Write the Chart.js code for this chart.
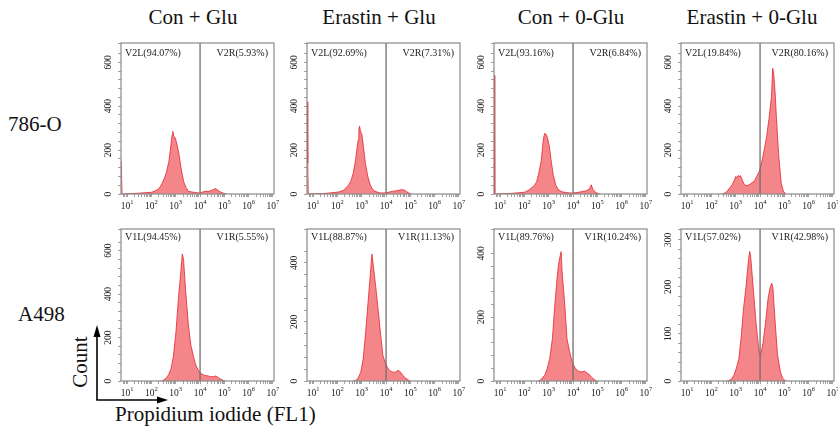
<!DOCTYPE html>
<html>
<head>
<meta charset="utf-8">
<script src="https://cdn.jsdelivr.net/npm/chart.js@4.4.1/dist/chart.umd.min.js"></script>
<style>
  html, body { margin: 0; padding: 0; background: #fff; }
  body { width: 838px; height: 434px; position: relative; overflow: hidden; font-family: "Liberation Serif", serif; color: #111; }
  canvas { position: absolute; }
  .txt { position: absolute; white-space: nowrap; line-height: 1; }
  .title { font-size: 21px; top: 7px; transform: translateX(-50%); }
</style>
</head>
<body>
<div id="labels"></div>
<svg width="838" height="434" style="position:absolute;left:0;top:0">
  <line x1="97" y1="400" x2="97" y2="335" stroke="#000" stroke-width="1.6"/>
  <polygon points="97,325 93.5,337 100.5,337" fill="#000"/>
  <line x1="96.2" y1="400" x2="159" y2="400" stroke="#000" stroke-width="1.6"/>
  <polygon points="168,400 157,396.5 157,403.5" fill="#000"/>
</svg>
<div class="txt" style="font-size:21px;left:80px;top:362px;transform:translate(-50%,-50%) rotate(-90deg)">Count</div>
<div class="txt" style="font-size:21px;left:115px;top:404px">Propidium iodide (FL1)</div>
<script>
// column / row names
const colNames = ['Con + Glu', 'Erastin + Glu', 'Con + 0-Glu', 'Erastin + 0-Glu'];
const rowNames = ['786-O', 'A498'];

// histograms: log10(FL1 channel) and counts
// 786-O row
const t1Exp = [0.76, 0.79, 1.4, 2.02, 2.22, 2.33, 2.43, 2.52, 2.62, 2.72, 2.81, 2.85, 2.88, 2.92, 2.97, 3.02, 3.12, 3.23, 3.33, 3.42, 3.52, 3.73, 3.92, 4.05, 4.18, 4.35, 4.49, 4.64, 4.79, 4.95, 5.07];
const t1Count = [150, 0, 3, 8, 18, 27, 47, 68, 100, 150, 230, 270, 285, 262, 258, 240, 190, 110, 55, 30, 12, 8, 5, 6, 12, 12, 17, 25, 12, 4, 0];
const t2Exp = [0.76, 0.78, 0.8, 1.53, 2.05, 2.25, 2.44, 2.55, 2.65, 2.74, 2.85, 2.88, 2.91, 2.95, 3.0, 3.06, 3.15, 3.25, 3.35, 3.44, 3.54, 3.76, 4.0, 4.17, 4.3, 4.44, 4.64, 4.74, 4.85, 4.94, 5.04];
const t2Count = [420, 140, 0, 3, 9, 17, 38, 58, 95, 150, 245, 290, 310, 285, 275, 225, 140, 80, 42, 22, 12, 5, 5, 10, 13, 15, 20, 18, 10, 4, 0];
const t3Exp = [0.76, 0.78, 1.48, 2.0, 2.19, 2.4, 2.5, 2.59, 2.69, 2.76, 2.8, 2.84, 2.9, 2.95, 3.02, 3.09, 3.18, 3.29, 3.39, 3.54, 3.75, 3.98, 4.23, 4.51, 4.67, 4.75, 4.81, 4.92, 5.03, 5.12];
const t3Count = [540, 0, 3, 8, 18, 38, 55, 95, 150, 230, 262, 277, 270, 255, 220, 160, 90, 40, 20, 10, 6, 4, 8, 14, 22, 42, 22, 8, 2, 0];
const t4Exp = [2.45, 2.56, 2.64, 2.75, 2.85, 2.95, 3.0, 3.04, 3.1, 3.15, 3.19, 3.25, 3.35, 3.46, 3.55, 3.65, 3.76, 3.86, 3.97, 4.06, 4.16, 4.27, 4.37, 4.47, 4.52, 4.56, 4.62, 4.67, 4.77, 4.87, 4.96, 5.06];
const t4Count = [0, 5, 12, 27, 42, 65, 80, 73, 85, 78, 84, 70, 42, 38, 42, 50, 58, 80, 103, 140, 195, 262, 345, 445, 573, 550, 460, 353, 171, 50, 12, 0];
// A498 row
const b1Exp = [2.4, 2.51, 2.6, 2.71, 2.81, 2.9, 3.01, 3.11, 3.21, 3.27, 3.32, 3.41, 3.52, 3.62, 3.73, 3.82, 3.93, 4.03, 4.14, 4.23, 4.34, 4.44, 4.55, 4.65, 4.76, 4.85, 4.96, 5.03];
const b1Count = [0, 5, 12, 30, 58, 112, 228, 380, 505, 585, 560, 412, 258, 166, 112, 74, 50, 35, 28, 25, 23, 20, 20, 23, 15, 8, 2, 0];
const b2Exp = [2.65, 2.76, 2.85, 2.96, 3.06, 3.16, 3.26, 3.37, 3.42, 3.46, 3.57, 3.67, 3.78, 3.87, 3.98, 4.08, 4.19, 4.28, 4.39, 4.49, 4.6, 4.69, 4.8, 4.9, 4.99];
const b2Count = [0, 2, 10, 30, 75, 165, 267, 380, 430, 402, 323, 245, 155, 87, 58, 42, 33, 30, 30, 36, 30, 19, 10, 4, 0];
const b3Exp = [2.55, 2.64, 2.74, 2.85, 2.94, 3.04, 3.15, 3.25, 3.34, 3.4, 3.45, 3.51, 3.55, 3.66, 3.75, 3.86, 3.96, 4.06, 4.17, 4.26, 4.37, 4.47, 4.56, 4.67, 4.77, 4.87, 4.96];
const b3Count = [0, 2, 10, 20, 40, 70, 133, 238, 320, 363, 385, 405, 342, 238, 133, 91, 60, 44, 33, 30, 28, 31, 26, 20, 11, 5, 0];
const b4Exp = [2.62, 2.72, 2.83, 2.92, 3.02, 3.13, 3.23, 3.32, 3.43, 3.53, 3.58, 3.62, 3.72, 3.83, 3.93, 3.98, 4.02, 4.12, 4.23, 4.33, 4.42, 4.48, 4.53, 4.63, 4.72, 4.84, 4.93, 5.03, 5.08];
const b4Count = [0, 1, 4, 12, 26, 48, 97, 154, 204, 261, 275, 261, 197, 126, 76, 58, 55, 80, 126, 176, 200, 208, 197, 119, 55, 19, 6, 1, 0];

// gate texts
const topLeftText = ['V2L(94.07%)', 'V2L(92.69%)', 'V2L(93.16%)', 'V2L(19.84%)'];
const topRightText = ['V2R(5.93%)', 'V2R(7.31%)', 'V2R(6.84%)', 'V2R(80.16%)'];
const botLeftText = ['V1L(94.45%)', 'V1L(88.87%)', 'V1L(89.76%)', 'V1L(57.02%)'];
const botRightText = ['V1R(5.55%)', 'V1R(11.13%)', 'V1R(10.24%)', 'V1R(42.98%)'];

// axes
const yMaxTop = [688, 688, 688, 688];
const yMaxBot = [700, 515, 476, 323];
const yLabelStepTop = [200, 200, 200, 200];
const yLabelStepBot = [200, 200, 200, 100];
const gateValue = 1e4;
const xMin = 5.6, xMax = 1.1e7;

// layout
const colLeft = [121, 307, 494, 681];
const colTitleX = [193, 379, 571, 752];
const boxW = 153;
const rowTop = [43, 229];
const rowH = [151, 152];
const yAxisW = 32, xAxisH = 24;

const labels = document.getElementById('labels');
colNames.forEach((n, i) => {
  const d = document.createElement('div');
  d.className = 'txt title';
  d.style.left = colTitleX[i] + 'px';
  d.textContent = n;
  labels.appendChild(d);
});
[[8, 114], [18, 304]].forEach((p, i) => {
  const d = document.createElement('div');
  d.className = 'txt';
  d.style.cssText = 'font-size:21px;left:' + p[0] + 'px;top:' + p[1] + 'px';
  d.textContent = rowNames[i];
  labels.appendChild(d);
});

const panelDecor = {
  id: 'panelDecor',
  afterDraw(chart, args, o) {
    const { ctx, chartArea: a } = chart;
    const xs = chart.scales.x, ys = chart.scales.y;
    ctx.save();
    ctx.strokeStyle = '#8a8a8a';
    ctx.lineWidth = 1.2;
    ctx.strokeRect(a.left, a.top, a.right - a.left, a.bottom - a.top);

    ctx.fillStyle = '#222';
    ctx.textBaseline = 'middle';
    ctx.font = '10px "Liberation Serif"';
    ctx.textAlign = 'left';
    ctx.fillText(o.leftText, a.left + 4, a.top + o.textDy);
    ctx.textAlign = 'right';
    ctx.fillText(o.rightText, a.right - 6, a.top + o.textDy);

    // rotated y labels
    ctx.font = '9.5px "Liberation Serif"';
    ctx.textAlign = 'center';
    ys.ticks.forEach(t => {
      if (t.value % o.yLabelStep !== 0) return;
      ctx.save();
      ctx.translate(a.left - 13, ys.getPixelForValue(t.value));
      ctx.rotate(-Math.PI / 2);
      ctx.fillText(String(t.value), 0, 0);
      ctx.restore();
    });

    // x labels as 10 with raised exponent
    ctx.textAlign = 'left';
    xs.ticks.forEach(t => {
      const lg = Math.log10(t.value);
      const e = Math.round(lg);
      if (Math.abs(lg - e) > 1e-6 || e < 1) return;
      const px = xs.getPixelForValue(t.value);
      ctx.font = '9.5px "Liberation Serif"';
      const w1 = ctx.measureText('10').width;
      ctx.font = '6.5px "Liberation Serif"';
      const w2 = ctx.measureText(String(e)).width;
      const x0 = px - (w1 + w2) / 2;
      ctx.font = '9.5px "Liberation Serif"';
      ctx.fillText('10', x0, a.bottom + 12);
      ctx.font = '6.5px "Liberation Serif"';
      ctx.fillText(String(e), x0 + w1, a.bottom + 8.5);
    });
    ctx.restore();
  }
};

function makePanel(row, col, exp, count, yMax, labelStep, leftText, rightText) {
  const cv = document.createElement('canvas');
  const h = rowH[row];
  cv.width = yAxisW + boxW + 6;
  cv.height = 4 + h + xAxisH;
  cv.style.left = (colLeft[col] - yAxisW) + 'px';
  cv.style.top = (rowTop[row] - 4) + 'px';
  document.body.appendChild(cv);

  const hist = exp.map((e, i) => ({ x: Math.pow(10, e), y: count[i] }));

  new Chart(cv, {
    type: 'line',
    data: {
      datasets: [
        {
          data: [{ x: gateValue, y: 0 }, { x: gateValue, y: yMax }],
          borderColor: '#6e6e6e', borderWidth: 1.3, pointRadius: 0, fill: false, order: 0
        },
        {
          data: hist,
          borderColor: '#e3262e', borderWidth: 0.8,
          backgroundColor: 'rgba(240,92,98,0.75)',
          fill: 'origin', pointRadius: 0, tension: 0, order: 1
        }
      ]
    },
    options: {
      responsive: false,
      animation: false,
      layout: { padding: { top: 4, right: 6, left: 0, bottom: 0 } },
      plugins: {
        legend: { display: false },
        tooltip: { enabled: false },
        panelDecor: { leftText, rightText, textDy: row === 0 ? 10 : 8, yLabelStep: labelStep }
      },
      scales: {
        x: {
          type: 'logarithmic', min: xMin, max: xMax,
          border: { display: false },
          grid: { drawOnChartArea: false, drawTicks: true, tickLength: 3, color: '#8a8a8a', lineWidth: 0.8 },
          ticks: { display: false, autoSkip: false },
          afterBuildTicks: s => {
            s.ticks = s.ticks.filter(t => {
              const m = t.value / Math.pow(10, Math.floor(Math.log10(t.value) + 1e-9));
              return Math.abs(m - Math.round(m)) < 1e-6;
            });
          },
          afterFit: s => { s.height = xAxisH; }
        },
        y: {
          min: 0, max: yMax,
          border: { display: false },
          grid: { drawOnChartArea: false, drawTicks: true, tickLength: 3, color: '#8a8a8a', lineWidth: 0.8 },
          ticks: { display: false, stepSize: labelStep / 5 },
          afterFit: s => { s.width = yAxisW; }
        }
      }
    },
    plugins: [panelDecor]
  });
}

const topExp = [t1Exp, t2Exp, t3Exp, t4Exp], topCount = [t1Count, t2Count, t3Count, t4Count];
const botExp = [b1Exp, b2Exp, b3Exp, b4Exp], botCount = [b1Count, b2Count, b3Count, b4Count];
for (let c = 0; c < 4; c++) {
  makePanel(0, c, topExp[c], topCount[c], yMaxTop[c], yLabelStepTop[c], topLeftText[c], topRightText[c]);
  makePanel(1, c, botExp[c], botCount[c], yMaxBot[c], yLabelStepBot[c], botLeftText[c], botRightText[c]);
}
</script>
</body>
</html>
